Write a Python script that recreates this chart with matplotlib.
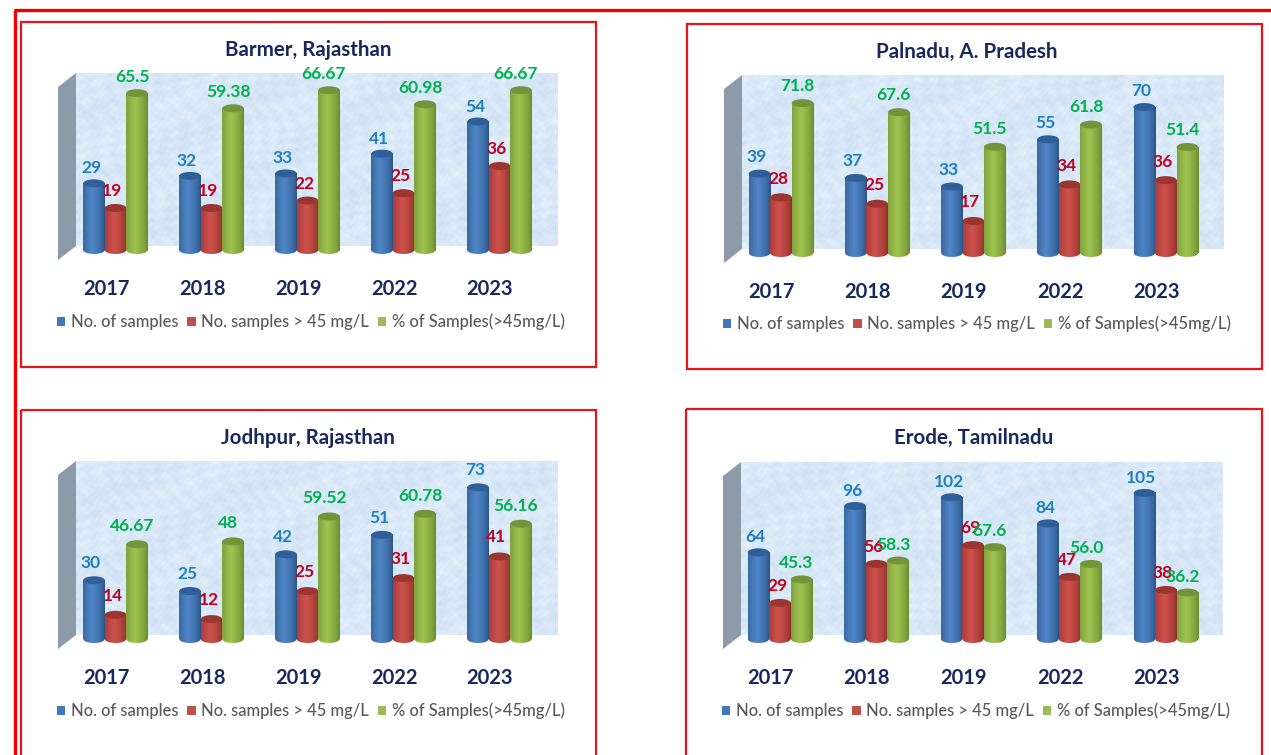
import matplotlib
matplotlib.use('Agg')
import matplotlib.pyplot as plt
from matplotlib.patches import Rectangle, Polygon, Ellipse, Patch
from matplotlib.transforms import Affine2D
import numpy as np

plt.rcParams['font.family'] = ['Lato', 'DejaVu Sans']

W, H = 1271, 755

years = ['2017', '2018', '2019', '2022', '2023']
series_names = ['No. of samples', 'No. samples > 45 mg/L', '% of Samples(>45mg/L)']
titles = ['Barmer, Rajasthan', 'Palnadu, A. Pradesh', 'Jodhpur, Rajasthan', 'Erode, Tamilnadu']

# valeurs, texte = tel qu'affiche
samples = [[29, 32, 33, 41, 54], [39, 37, 33, 55, 70], [30, 25, 42, 51, 73], [64, 96, 102, 84, 105]]
above45 = [[19, 19, 22, 25, 36], [28, 25, 17, 34, 36], [14, 12, 25, 31, 41], [29, 56, 69, 47, 38]]
percent = [[65.5, 59.38, 66.67, 60.98, 66.67],
           [71.8, 67.6, 51.5, 61.8, 51.4],
           [46.67, 48, 59.52, 60.78, 56.16],
           [45.3, 58.3, 67.6, 56.0, 36.2]]
percent_txt = [['65.5', '59.38', '66.67', '60.98', '66.67'],
               ['71.8', '67.6', '51.5', '61.8', '51.4'],
               ['46.67', '48', '59.52', '60.78', '56.16'],
               ['45.3', '58.3', '67.6', '56.0', '36.2']]

# placement de chaque panneau, en pixels de l'image
frames = [(21, 22, 596, 367), (687, 24, 1262, 369), (21, 410, 596, 770), (686, 409, 1262, 770)]
first_center = [115.5, 781, 115.5, 780]
step = [96, 96.2, 96, 96.5]
baseline = [250, 253, 639, 639]
px_per_unit = [2.47, 2.15, 2.16, 1.447]
y_floor = [2.0, 2.1, 2.8, 4.1]
wall_x = [58, 724, 58, 723]
wall_top = [73, 75, 461, 462]
title_pos = [(308, 50), (967, 52), (307.5, 438), (973.5, 438)]
legend_pos = [(57, 322), (723, 324), (57, 711), (722, 711)]
label_shift = [-3, -1.5, -1, -3]

bar_px = 21.5
foot_px = 6
body_colors = [('#2a5688', '#4f86c8'), ('#8f2f2b', '#d0524d'), ('#6b8c2e', '#a0c452')]
top_colors = ['#2f5f98', '#9c3430', '#73953a']
legend_colors = ['#4077bd', '#c0504d', '#9bbb59']
label_colors = ['#1f7fc4', '#c00020', '#00b050']
label_dx = [-3, -3, -5]
label_dy = [18, 20, 19]
navy = '#17285f'

fig = plt.figure(figsize=(W / 100, H / 100), dpi=100, facecolor='white')
# coordonnees pixels avec y vers le bas
px = Affine2D().scale(1, -1).translate(0, H)


def texture(w, h):
    yy, xx = np.mgrid[0:h, 0:w]
    n = (np.sin(xx * 0.213 + yy * 0.171 + np.sin(yy * 0.09) * 2.1) * np.sin(yy * 0.287 - xx * 0.113 + np.sin(xx * 0.05) * 1.7)
         + 0.7 * np.sin(xx * 0.63 + 1.3 + np.sin(yy * 0.37)) * np.sin(yy * 0.71 + xx * 0.23 + np.sin(xx * 0.29))
         + 0.5 * np.sin(xx * 0.047 + yy * 0.083 + 0.5))
    n = n / 2.2
    c = np.array([0.85, 0.91, 0.97])
    return np.clip(c[None, None, :] + n[..., None] * np.array([0.05, 0.035, 0.018]), 0, 1)


def gradient(edge, mid):
    e = np.array(matplotlib.colors.to_rgb(edge))
    m = np.array(matplotlib.colors.to_rgb(mid))
    t = np.linspace(0, 1, 24)
    k = np.clip(1 - np.abs(t - 0.42) / 0.58, 0, 1) ** 0.7
    return (e + (m - e) * k[:, None])[None, :, :]


def draw_panel(n):
    x0, y0, x1, y1 = frames[n]
    fig.add_artist(Rectangle((x0, y0), x1 - x0, y1 - y0, transform=px, fill=False,
                             edgecolor='#e8141c', linewidth=1.6, zorder=5))

    wx, wt = wall_x[n], wall_top[n]
    wb = baseline[n] - 4
    tex = texture(482, wb - wt)
    fig.figimage(tex, xo=wx + 18, yo=H - wb, origin='upper', zorder=-2)
    fig.add_artist(Polygon([(wx + 18, wt), (wx, wt + 14), (wx, wb + 14), (wx + 18, wb)], transform=px,
                           facecolor='#8d9ba8', edgecolor='none', zorder=-1))

    st = step[n]
    left = first_center[n] - st / 2
    height = 175
    # l'axe descend un peu sous le pied des barres pour ne pas couper les ellipses
    ax = fig.add_axes([left / W, (H - baseline[n] - foot_px) / H, 5 * st / W, (height + foot_px) / H])
    ax.patch.set_visible(False)
    for s in ax.spines.values():
        s.set_visible(False)

    scale = px_per_unit[n]
    floor = y_floor[n]
    xs = np.arange(len(years))
    bw = bar_px / st
    ell_h = 8 / scale
    data = [samples[n], above45[n], percent[n]]
    texts = [[str(v) for v in samples[n]], [str(v) for v in above45[n]], percent_txt[n]]

    for j in range(3):
        pos = xs + (j - 1) * bw
        vals = np.array(data[j], dtype=float)
        bars = ax.bar(pos, vals - floor, bw, bottom=floor, color=body_colors[j][1], zorder=3 + j)
        grad = gradient(*body_colors[j])
        for b, p, v, t in zip(bars, pos, vals, texts[j]):
            ext = (p - bw / 2, p + bw / 2)
            ax.imshow(grad, extent=(ext[0], ext[1], floor, v), aspect='auto', zorder=3 + j,
                      interpolation='bilinear')
            foot = Ellipse((p, floor), bw, ell_h, facecolor='none', edgecolor='none', transform=ax.transData)
            ax.add_patch(foot)
            im = ax.imshow(grad, extent=(ext[0], ext[1], floor - ell_h / 2, floor + ell_h / 2), aspect='auto',
                           zorder=3 + j, interpolation='bilinear')
            im.set_clip_path(foot)
            ax.add_patch(Ellipse((p, v), bw, ell_h, facecolor=top_colors[j], edgecolor='none', zorder=3 + j,
                                 clip_on=False))
            ax.annotate(t, (p, v), xytext=(label_dx[j], label_dy[j] + label_shift[n]), textcoords='offset pixels',
                        ha='center', va='center', color=label_colors[j], fontsize=12.5,
                        fontweight='bold', zorder=10, annotation_clip=False)

    ax.set_xlim(-0.5, 4.5)
    ax.set_ylim(floor - foot_px / scale, floor + height / scale)
    ax.set_yticks([])
    ax.set_xticks(xs - 9.5 / st)
    ax.set_xticklabels(years, fontsize=14.5, fontweight='bold', color=navy)
    ax.tick_params(axis='x', length=0, pad=16.5)

    ax.text(title_pos[n][0], title_pos[n][1], titles[n], transform=px, ha='center', va='center',
            fontsize=14.8, fontweight='bold', color=navy)

    handles = [Patch(facecolor=legend_colors[j], label=series_names[j]) for j in range(3)]
    ax.legend(handles=handles, ncol=3, loc='center left', bbox_to_anchor=legend_pos[n], bbox_transform=px,
              frameon=False, labelcolor='#595959', handlelength=0.5, handleheight=0.5,
              prop={'size': 11.9, 'weight': 'medium'},
              handletextpad=0.33, columnspacing=0.55, borderaxespad=0, borderpad=0)


for n in range(4):
    draw_panel(n)

# grand cadre rouge autour de tout
fig.add_artist(plt.Line2D([15, 15, W], [H, 10, 10], transform=px, color='#f00000', linewidth=2.4, zorder=6))

fig.savefig('out.png', dpi=100)
